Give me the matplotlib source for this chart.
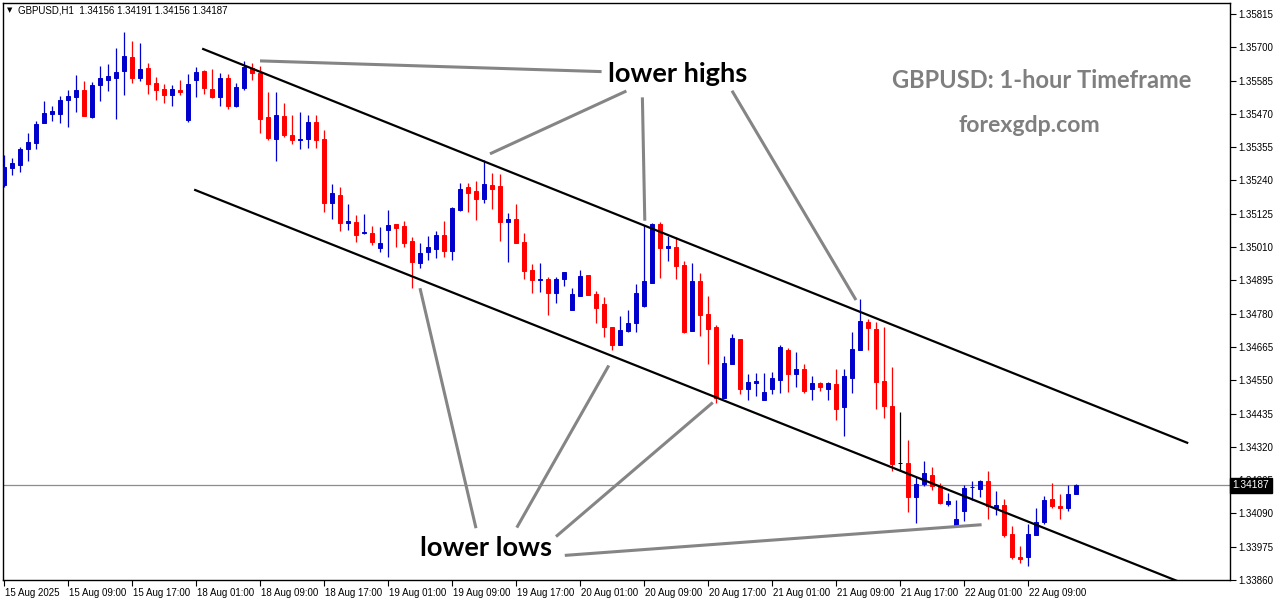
import matplotlib
matplotlib.use("Agg")
import matplotlib.pyplot as plt
import matplotlib.transforms as mtransforms
import numpy as np

# --- GBPUSD H1 bars, 15 Aug 2025 01:00 -> 22 Aug 2025 15:00 ---
opens = [
    1.35224, 1.35284, 1.35294, 1.35349, 1.35371, 1.35439, 1.35471, 1.35471, 1.35518, 1.35529,
    1.35553, 1.35459, 1.35570, 1.35587, 1.35595, 1.35619, 1.35667, 1.35595, 1.35629, 1.35577,
    1.35556, 1.35535, 1.35553, 1.35449, 1.35587, 1.35618, 1.35556, 1.35528, 1.35594, 1.35497,
    1.35560, 1.35629, 1.35611, 1.35459, 1.35383, 1.35463, 1.35397, 1.35381, 1.35383, 1.35442,
    1.35383, 1.35161, 1.35190, 1.35092, 1.35097, 1.35058, 1.35059, 1.35008, 1.35070, 1.35090,
    1.35083, 1.35031, 1.34956, 1.34994, 1.35005, 1.35052, 1.34998, 1.35138, 1.35218, 1.35204,
    1.35177, 1.35224, 1.35221, 1.35098, 1.35107, 1.35028, 1.34931, 1.34897, 1.34900, 1.34853,
    1.34898, 1.34794, 1.34842, 1.34914, 1.34848, 1.34814, 1.34735, 1.34670, 1.34721, 1.34748,
    1.34807, 1.34887, 1.35090, 1.35008, 1.35010, 1.34948, 1.34721, 1.34893, 1.34779, 1.34734,
    1.34490, 1.34605, 1.34693, 1.34518, 1.34542, 1.34483, 1.34518, 1.34552, 1.34655, 1.34570,
    1.34590, 1.34518, 1.34542, 1.34521, 1.34538, 1.34459, 1.34556, 1.34656, 1.34752, 1.34728,
    1.34549, 1.34462, 1.34264, 1.34265, 1.34145, 1.34193, 1.34223, 1.34183, 1.34124, 1.34047,
    1.34100, 1.34181, 1.34176, 1.34202, 1.34110, 1.34120, 1.34020, 1.33941, 1.33938, 1.34014,
    1.34062, 1.34140, 1.34116, 1.34107, 1.34156,
]
highs = [
    1.35328, 1.35319, 1.35357, 1.35404, 1.35447, 1.35515, 1.35497, 1.35532, 1.35553, 1.35604,
    1.35584, 1.35581, 1.35635, 1.35642, 1.35698, 1.35753, 1.35722, 1.35715, 1.35646, 1.35597,
    1.35573, 1.35570, 1.35587, 1.35608, 1.35632, 1.35622, 1.35625, 1.35611, 1.35608, 1.35577,
    1.35653, 1.35646, 1.35635, 1.35546, 1.35546, 1.35508, 1.35466, 1.35477, 1.35466, 1.35466,
    1.35414, 1.35229, 1.35218, 1.35159, 1.35121, 1.35124, 1.35083, 1.35079, 1.35138, 1.35090,
    1.35100, 1.35044, 1.35024, 1.35048, 1.35066, 1.35100, 1.35149, 1.35231, 1.35231, 1.35238,
    1.35311, 1.35266, 1.35262, 1.35129, 1.35159, 1.35059, 1.34953, 1.34955, 1.34908, 1.34908,
    1.34924, 1.34870, 1.34932, 1.34914, 1.34859, 1.34838, 1.34735, 1.34773, 1.34791, 1.34883,
    1.35086, 1.35092, 1.35097, 1.35049, 1.35045, 1.34962, 1.34956, 1.34921, 1.34841, 1.34740,
    1.34632, 1.34710, 1.34693, 1.34573, 1.34576, 1.34576, 1.34579, 1.34673, 1.34663, 1.34649,
    1.34606, 1.34566, 1.34545, 1.34545, 1.34590, 1.34590, 1.34718, 1.34832, 1.34763, 1.34752,
    1.34735, 1.34597, 1.34442, 1.34344, 1.34217, 1.34271, 1.34251, 1.34196, 1.34159, 1.34138,
    1.34189, 1.34202, 1.34206, 1.34237, 1.34169, 1.34140, 1.34047, 1.33978, 1.34052, 1.34109,
    1.34151, 1.34196, 1.34157, 1.34189, 1.34191,
]
lows = [
    1.35219, 1.35259, 1.35270, 1.35308, 1.35349, 1.35439, 1.35445, 1.35439, 1.35426, 1.35478,
    1.35463, 1.35457, 1.35516, 1.35549, 1.35452, 1.35535, 1.35578, 1.35585, 1.35539, 1.35518,
    1.35508, 1.35497, 1.35535, 1.35442, 1.35528, 1.35539, 1.35525, 1.35497, 1.35487, 1.35494,
    1.35553, 1.35587, 1.35404, 1.35380, 1.35307, 1.35390, 1.35366, 1.35349, 1.35352, 1.35352,
    1.35132, 1.35107, 1.35067, 1.35069, 1.35029, 1.35054, 1.35017, 1.34992, 1.34977, 1.35011,
    1.35011, 1.34870, 1.34939, 1.34967, 1.34973, 1.34977, 1.34967, 1.35135, 1.35132, 1.35104,
    1.35163, 1.35142, 1.35032, 1.34960, 1.35025, 1.34901, 1.34853, 1.34856, 1.34777, 1.34818,
    1.34877, 1.34794, 1.34840, 1.34846, 1.34749, 1.34701, 1.34655, 1.34670, 1.34717, 1.34717,
    1.34804, 1.34887, 1.34904, 1.34963, 1.34900, 1.34714, 1.34721, 1.34704, 1.34607, 1.34473,
    1.34490, 1.34605, 1.34504, 1.34480, 1.34497, 1.34483, 1.34504, 1.34507, 1.34511, 1.34528,
    1.34507, 1.34480, 1.34514, 1.34480, 1.34413, 1.34358, 1.34507, 1.34656, 1.34656, 1.34452,
    1.34418, 1.34238, 1.34235, 1.34096, 1.34058, 1.34183, 1.34172, 1.34124, 1.34117, 1.34047,
    1.34065, 1.34138, 1.34148, 1.34072, 1.34086, 1.34007, 1.33931, 1.33920, 1.33907, 1.34014,
    1.34052, 1.34107, 1.34069, 1.34100, 1.34156,
]
closes = [
    1.35288, 1.35302, 1.35349, 1.35373, 1.35435, 1.35473, 1.35480, 1.35518, 1.35532, 1.35553,
    1.35463, 1.35570, 1.35594, 1.35601, 1.35615, 1.35670, 1.35595, 1.35625, 1.35574, 1.35553,
    1.35535, 1.35556, 1.35546, 1.35573, 1.35615, 1.35560, 1.35528, 1.35594, 1.35497, 1.35563,
    1.35632, 1.35611, 1.35452, 1.35387, 1.35466, 1.35397, 1.35380, 1.35384, 1.35442, 1.35380,
    1.35161, 1.35198, 1.35092, 1.35100, 1.35052, 1.35063, 1.35029, 1.35024, 1.35086, 1.35077,
    1.35025, 1.34960, 1.34990, 1.35010, 1.35052, 1.34998, 1.35145, 1.35211, 1.35198, 1.35176,
    1.35228, 1.35212, 1.35098, 1.35107, 1.35025, 1.34929, 1.34896, 1.34900, 1.34853, 1.34900,
    1.34924, 1.34848, 1.34910, 1.34846, 1.34801, 1.34735, 1.34670, 1.34724, 1.34746, 1.34851,
    1.34893, 1.35090, 1.35008, 1.35013, 1.34946, 1.34717, 1.34893, 1.34777, 1.34728, 1.34490,
    1.34609, 1.34696, 1.34518, 1.34544, 1.34548, 1.34510, 1.34559, 1.34666, 1.34570, 1.34590,
    1.34514, 1.34542, 1.34525, 1.34542, 1.34452, 1.34563, 1.34658, 1.34756, 1.34732, 1.34545,
    1.34462, 1.34262, 1.34264, 1.34145, 1.34192, 1.34228, 1.34183, 1.34127, 1.34134, 1.34072,
    1.34178, 1.34182, 1.34202, 1.34114, 1.34120, 1.34017, 1.33941, 1.33934, 1.34019, 1.34061,
    1.34137, 1.34114, 1.34107, 1.34157, 1.34187,
]

time_labels = [
    "15 Aug 2025", "15 Aug 09:00", "15 Aug 17:00", "18 Aug 01:00", "18 Aug 09:00",
    "18 Aug 17:00", "19 Aug 01:00", "19 Aug 09:00", "19 Aug 17:00", "20 Aug 01:00",
    "20 Aug 09:00", "20 Aug 17:00", "21 Aug 01:00", "21 Aug 09:00", "21 Aug 17:00",
    "22 Aug 01:00", "22 Aug 09:00",
]
price_ticks = [1.35815 - 0.00115 * k for k in range(18)]

# channel trendlines: (bar index, price) pairs
upper_channel = [(24.9, 1.35694), (147.9, 1.34334)]
lower_channel = [(23.9, 1.35207), (146.8, 1.33855)]

# grey pointer lines for the annotations
high_pointers = [
    [(32.0, 1.35653), (74.7, 1.35616)],
    [(77.8, 1.35549), (60.75, 1.35332)],
    [(79.8, 1.35527), (80.1, 1.35101)],
    [(91.0, 1.35550), (106.5, 1.34827)],
]
low_pointers = [
    [(59.0, 1.34039), (52.0, 1.34868)],
    [(64.1, 1.34041), (75.6, 1.34601)],
    [(69.0, 1.34010), (88.6, 1.34473)],
    [(70.1, 1.33945), (122.2, 1.34051)],
]

W, H = 1276, 604
fig = plt.figure(figsize=(W / 100, H / 100), dpi=100)
ax = fig.add_axes([2.7 / W, 1 - 580 / H, (1230 - 2.7) / W, (580 - 2.7) / H])

o = np.array(opens)
h = np.array(highs)
l = np.array(lows)
c = np.array(closes)
x = np.arange(len(o))

colors = np.where(c > o, "#0000cd", np.where(c < o, "#ff0000", "#000000"))

ax.vlines(x, l, h, colors=colors, linewidth=0.9, zorder=3)
ax.bar(x, np.abs(c - o), bottom=np.minimum(o, c), width=0.55,
       color=colors, edgecolor=colors, linewidth=0.7, zorder=4)

# current price line
ax.axhline(c[-1], color="#8c8c8c", linewidth=0.9, zorder=2)

# channel
for line in (upper_channel, lower_channel):
    ax.plot([line[0][0], line[1][0]], [line[0][1], line[1][1]],
            color="black", linewidth=1.6, zorder=5)

for seg in high_pointers + low_pointers:
    ax.plot([seg[0][0], seg[1][0]], [seg[0][1], seg[1][1]],
            color="#858585", linewidth=2.2, solid_capstyle="butt", zorder=6)

ax.set_xlim(-0.16, 153.25)
ax.set_ylim(1.33860, 1.35854)

for s in ax.spines.values():
    s.set_linewidth(1.0)
    s.set_color("black")

ax.yaxis.tick_right()
ax.set_yticks(price_ticks)
ax.set_yticklabels([f"{p:.5f}" for p in price_ticks])
ax.tick_params(axis="y", direction="out", length=4, width=0.8, pad=2,
               labelsize=7, labelfontfamily="Liberation Sans")

ax.set_xticks(np.arange(0, 8 * len(time_labels), 8))
ax.set_xticklabels(time_labels)
ax.tick_params(axis="x", direction="out", length=4, width=0.8, pad=2,
               labelsize=7, labelfontfamily="Liberation Sans")
shift = mtransforms.ScaledTranslation(1 / 100, 0, fig.dpi_scale_trans)
for lab in ax.get_xticklabels():
    lab.set_horizontalalignment("left")
    lab.set_transform(lab.get_transform() + shift)

# price tag on the right axis (covers the 1.34205 label as in MT4)
ax.text(1.002, c[-1], f"{c[-1]:.5f}", transform=ax.get_yaxis_transform(),
        ha="left", va="center", color="white", fontsize=7.3,
        family="Liberation Sans", zorder=20, clip_on=False,
        bbox=dict(boxstyle="square,pad=0.25", facecolor="black", edgecolor="black"))

# header
fig.text(7 / W, 1 - 10.5 / H, "▼", fontsize=5, ha="left", va="center", color="black")
fig.text(18 / W, 1 - 10.5 / H,
         f"GBPUSD,H1  {o[-1]:.5f} {h[-1]:.5f} {l[-1]:.5f} {c[-1]:.5f}",
         fontsize=7, ha="left", va="center", family="Liberation Sans")

# annotations
fig.text(678 / W, 1 - 82.5 / H, "lower highs", fontsize=19.6, fontweight="bold",
         family="Lato", ha="center", va="baseline", color="black")
fig.text(485.5 / W, 1 - 556 / H, "lower lows", fontsize=19.6, fontweight="bold",
         family="Lato", ha="center", va="baseline", color="black")
fig.text(1041.5 / W, 1 - 87.5 / H, "GBPUSD: 1-hour Timeframe", fontsize=17,
         fontweight="bold", family="Lato", ha="center", va="baseline", color="#7f7f7f")
fig.text(1029 / W, 1 - 132.5 / H, "forexgdp.com", fontsize=16.6,
         fontweight="bold", family="Lato", ha="center", va="baseline", color="#7f7f7f")

fig.savefig("out.png", dpi=100, facecolor="white")
